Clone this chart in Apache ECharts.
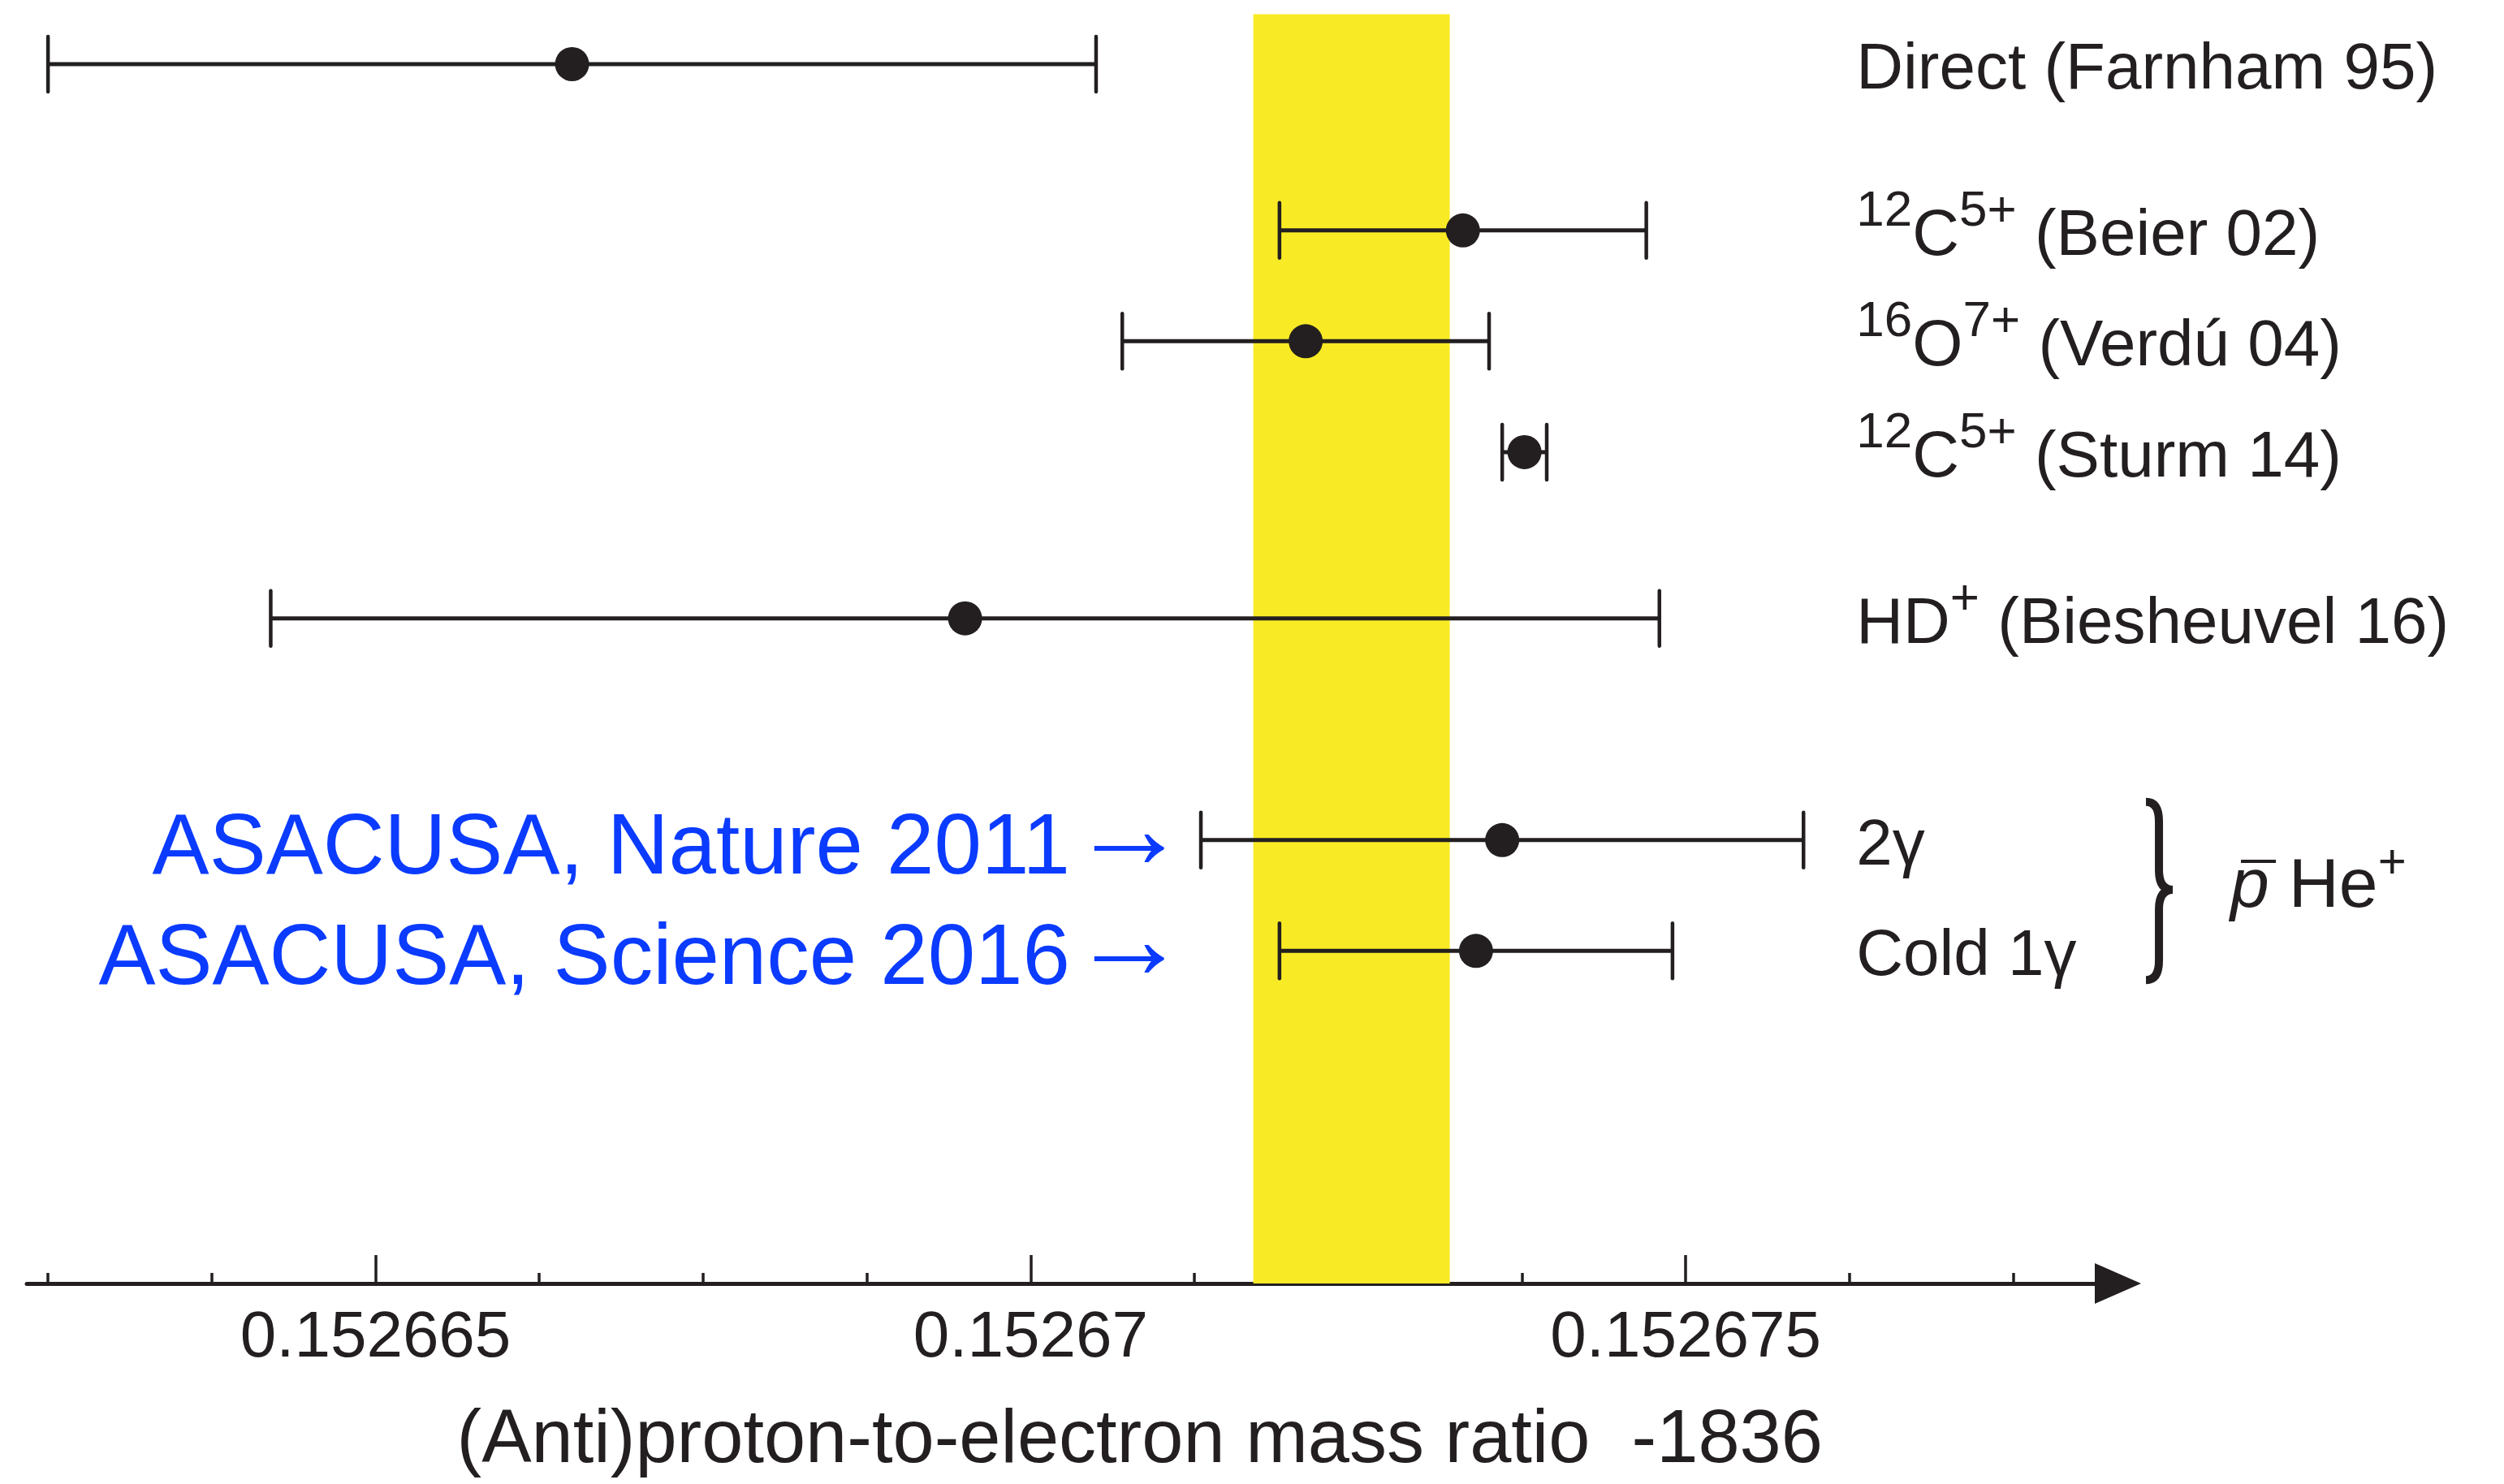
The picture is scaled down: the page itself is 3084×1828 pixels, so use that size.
<!DOCTYPE html>
<html><head><meta charset="utf-8">
<script src="https://cdn.jsdelivr.net/npm/echarts@6/dist/echarts.min.js"></script>
<style>html,body{margin:0;padding:0;background:#fff}#c{width:3084px;height:1828px}</style>
</head><body><div id="c"></div>
<script>
// ---------------- data ----------------
const rowLabels = [
  'Direct (Farnham 95)',
  '{s|12}C{s|5+} (Beier 02)',
  '{s|16}O{s|7+} (Verdú 04)',
  '{s|12}C{s|5+} (Sturm 14)',
  'HD{s|+} (Biesheuvel 16)',
  '2γ',
  'Cold 1γ'
];
const rowPositions = [0, 3, 5, 7, 10, 14, 16];
const centralValues = [0.1526665, 0.1526733, 0.1526721, 0.15267377, 0.1526695, 0.1526736, 0.1526734];
const uncertainties = [0.0000040, 0.0000014, 0.0000014, 0.00000017, 0.0000053, 0.0000023, 0.0000015];
const bandRange = [0.1526717, 0.1526732];
const majorTickValues = [0.152665, 0.15267, 0.152675];
const majorTickLabels = ['0.152665', '0.15267', '0.152675'];
const minorTickValues = [0.1526625, 0.15266375, 0.15266625, 0.1526675, 0.15266875,
                         0.15267125, 0.1526725, 0.15267375, 0.15267625, 0.1526775];
const asacusaLabels = ['ASACUSA, Nature 2011', 'ASACUSA, Science 2016'];
const asacusaRows = [14, 16];
const braceRows = [14, 16];
const axisTitle = '(Anti)proton-to-electron mass ratio  -1836';

// ---------------- layout / style ----------------
const INK = '#231f20';
const BLUE = '#0b3bff';
const YELLOW = '#f8eb25';
const FONT = "'Liberation Sans', Arial, Helvetica, sans-serif";
const X_MIN = 0.152662338, X_MAX = 0.1526783;
const LABEL_X = 0.1526763;
const ASACUSA_X = 0.15267098;
const BRACE_X = 0.152678514;

const chart = echarts.init(document.getElementById('c'), null, {renderer: 'canvas'});

const errorData = centralValues.map((c, i) => [c, rowPositions[i], uncertainties[i]]);
const dotData = centralValues.map((c, i) => [c, rowPositions[i]]);

const option = {
  animation: false,
  backgroundColor: '#fff',
  textStyle: {fontFamily: FONT},
  grid: {left: 33, right: 475.5, top: 10.7, bottom: 247, containLabel: false},
  xAxis: [{
    type: 'value', min: X_MIN, max: X_MAX, position: 'bottom',
    splitLine: {show: false},
    axisLine: {show: true, onZero: false, symbol: ['none', 'triangle'], symbolSize: [50, 57],
      lineStyle: {color: INK, width: 5}},
    axisTick: {show: true, inside: true, length: 35, customValues: majorTickValues,
      lineStyle: {color: INK, width: 3.5}},
    axisLabel: {show: true, customValues: majorTickValues, margin: 28, fontSize: 80,
      fontFamily: FONT, color: INK,
      formatter: function (v) {
        let best = 0, d = Infinity;
        majorTickValues.forEach((t, i) => { if (Math.abs(t - v) < d) { d = Math.abs(t - v); best = i; } });
        return majorTickLabels[best];
      }},
    name: axisTitle, nameLocation: 'middle', nameGap: 149,
    nameTextStyle: {fontSize: 92, fontFamily: FONT, color: INK, padding: [0, 0, 0, 166]}
  }, {
    type: 'value', min: X_MIN, max: X_MAX, position: 'bottom', offset: 0,
    splitLine: {show: false},
    axisLine: {show: false, onZero: false},
    axisTick: {show: true, inside: true, length: 13, customValues: minorTickValues,
      lineStyle: {color: INK, width: 3.5}},
    axisLabel: {show: false}
  }],
  yAxis: {type: 'value', min: -1, max: 22, inverse: true, show: false},
  series: [
    {
      type: 'custom', name: 'errors', xAxisIndex: 0, z: 3, silent: true,
      data: errorData, encode: {x: 0, y: 1},
      renderItem: function (params, api) {
        const c = api.value(0), r = api.value(1), e = api.value(2);
        const p1 = api.coord([c - e, r]), p2 = api.coord([c + e, r]);
        const h = 34;
        return {type: 'group', children: [
          {type: 'line', shape: {x1: p1[0], y1: p1[1], x2: p2[0], y2: p2[1]},
            style: {stroke: INK, lineWidth: 5}},
          {type: 'line', shape: {x1: p1[0], y1: p1[1] - h, x2: p1[0], y2: p1[1] + h},
            style: {stroke: INK, lineWidth: 4.5, lineCap: 'round'}},
          {type: 'line', shape: {x1: p2[0], y1: p2[1] - h, x2: p2[0], y2: p2[1] + h},
            style: {stroke: INK, lineWidth: 4.5, lineCap: 'round'}}
        ]};
      },
      markArea: {silent: true, itemStyle: {color: YELLOW}, z: 1,
        data: [[{xAxis: bandRange[0], yAxis: -0.9}, {xAxis: bandRange[1], yAxis: 22}]]}
    },
    {
      type: 'scatter', name: 'values', z: 4, silent: true,
      symbol: 'circle', symbolSize: 42, itemStyle: {color: INK, opacity: 1},
      data: dotData
    },
    {
      type: 'scatter', name: 'rowLabels', z: 5, silent: true, clip: false,
      symbolSize: 1, itemStyle: {color: 'rgba(0,0,0,0)', opacity: 1},
      data: rowPositions.map(r => [LABEL_X, r]),
      label: {
        show: true, position: 'right', distance: 0, offset: [0, 8],
        formatter: p => rowLabels[p.dataIndex],
        fontSize: 80, lineHeight: 120, fontFamily: FONT, color: INK,
        rich: {
          s: {fontSize: 62, lineHeight: 120, padding: [0, 0, 62, 0], fontFamily: FONT, color: INK}
        }
      }
    },
    {
      type: 'scatter', name: 'asacusa', z: 5, silent: true, clip: false,
      symbolSize: 1, itemStyle: {color: 'rgba(0,0,0,0)', opacity: 1},
      data: asacusaRows.map(r => [ASACUSA_X, r]),
      label: {
        show: true, position: 'left', distance: 0, offset: [36, 12],
        formatter: p => asacusaLabels[p.dataIndex] + '{a|→}',
        fontSize: 105, lineHeight: 130, fontFamily: FONT, color: BLUE,
        rich: {
          a: {fontSize: 145, lineHeight: 130, fontFamily: FONT, color: BLUE, padding: [0, 0, 36, 0]}
        }
      }
    },
    {
      type: 'custom', name: 'brace', z: 5, silent: true, clip: false,
      data: [[BRACE_X, braceRows[0], braceRows[1]]], encode: {x: 0, y: [1, 2]},
      renderItem: function (params, api) {
        const t = api.coord([api.value(0), api.value(1)]);
        const b = api.coord([api.value(0), api.value(2)]);
        const x0 = t[0], y0 = t[1] - 47, y1 = b[1] + 36, ym = (t[1] + b[1]) / 2 - 7;
        const xs = x0 + 16, xt = x0 + 33;
        const d = `M${x0},${y0} Q${xs},${y0} ${xs},${y0 + 24} L${xs},${ym - 24} ` +
                  `Q${xs},${ym} ${xt},${ym} Q${xs},${ym} ${xs},${ym + 24} ` +
                  `L${xs},${y1 - 24} Q${xs},${y1} ${x0},${y1}`;
        const tx = x0 + 104, ty = (t[1] + b[1]) / 2 - 10;
        return {type: 'group', children: [
          {type: 'path', shape: {pathData: d}, style: {stroke: INK, fill: null, lineWidth: 10}},
          {type: 'text', x: tx, y: ty, style: {
            text: '{p|p} He{s|+}', align: 'left', verticalAlign: 'middle',
            fontSize: 86, fontFamily: FONT, lineHeight: 120, fill: INK,
            rich: {
              p: {fontSize: 86, fontStyle: 'italic', fontFamily: FONT, lineHeight: 120, fill: INK},
              s: {fontSize: 60, fontFamily: FONT, lineHeight: 120, padding: [0, 0, 58, 0], fill: INK}
            }
          }},
          {type: 'line', shape: {x1: tx + 13, y1: ty - 32, x2: tx + 56, y2: ty - 32},
            style: {stroke: INK, lineWidth: 4}}
        ]};
      }
    }
  ]
};
chart.setOption(option);
</script>
</body></html>
